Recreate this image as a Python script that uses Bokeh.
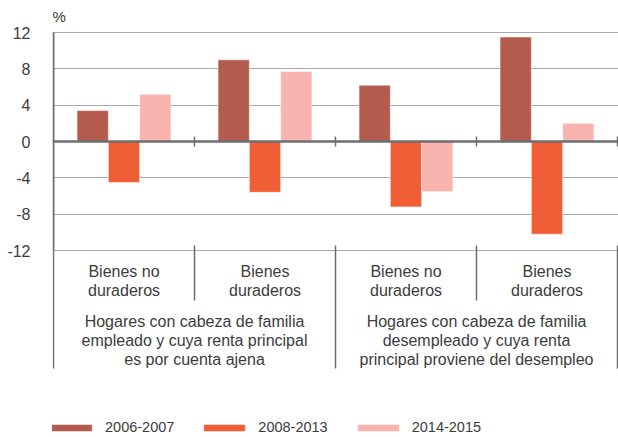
from bokeh.plotting import figure
from bokeh.models import (ColumnDataSource, FixedTicker, Span, Legend, LegendItem, Range1d)
from bokeh.core.properties import value
from bokeh.embed import file_html
from bokeh.resources import INLINE

# ---- data ----
subcategories = ["Bienes no\nduraderos", "Bienes\nduraderos", "Bienes no\nduraderos", "Bienes\nduraderos"]
groups = ["Hogares con cabeza de familia\nempleado y cuya renta principal\nes por cuenta ajena",
          "Hogares con cabeza de familia\ndesempleado y cuya renta\nprincipal proviene del desempleo"]
series_names = ["2006-2007", "2008-2013", "2014-2015"]
v_2006_2007 = [3.4, 9.0, 6.2, 11.5]
v_2008_2013 = [-4.5, -5.6, -7.2, -10.2]
v_2014_2015 = [5.2, 7.7, -5.5, 2.0]
series_values = [v_2006_2007, v_2008_2013, v_2014_2015]
y_ticks = [-12, -8, -4, 0, 4, 8, 12]
y_tick_labels = ["-12", "-8", "-4", "0", "4", "8", "12"]
unit_label = "%"

# ---- styles ----
colors = ["#b35c4d", "#f15d34", "#f9b4b0"]
FONT = "Liberation Sans"
TXT = "#3c3c3c"
AX = "#6d6e71"
GRID = "#a7a9ac"

W, H = 618, 436
left_border = 52
zero_px = 141.0             # page y of value 0
pxu = 218.0 / 24.0          # pixels per y unit
top_val = zero_px / pxu
bot_val = -(H - zero_px) / pxu
n = len(subcategories)
gpx = 141.0
x_start = -1 / gpx
x_end = n + 1 / gpx

p = figure(width=W, height=H, output_backend="svg", toolbar_location=None,
           x_range=Range1d(x_start, x_end), y_range=Range1d(bot_val, top_val),
           x_axis_location=None, min_border_left=left_border, min_border_right=0,
           min_border_top=0, min_border_bottom=0)
p.outline_line_color = None
p.xgrid.visible = False
p.background_fill_color = "white"
p.border_fill_color = "white"

# y axis
p.yaxis.ticker = FixedTicker(ticks=y_ticks)
p.yaxis.major_label_overrides = {t: l for t, l in zip(y_ticks, y_tick_labels)}
p.yaxis.axis_line_color = None
p.yaxis.major_tick_line_color = None
p.yaxis.minor_tick_line_color = None
p.yaxis.major_label_standoff = 16
p.yaxis.major_label_text_font = FONT
p.yaxis.major_label_text_font_size = "16px"
p.yaxis.major_label_text_color = TXT
p.ygrid.ticker = FixedTicker(ticks=[t for t in y_ticks if t != 0])
p.ygrid.grid_line_color = GRID
p.ygrid.grid_line_width = 1

# bars
bw = 0.222
offsets = [-bw, 0.0, bw]
renderers = []
for vals, off, col in zip(series_values, offsets, colors):
    src = ColumnDataSource(dict(x=[i + 0.5 + off for i in range(n)], top=vals))
    r = p.vbar(x="x", top="top", bottom=0, width=bw, source=src, fill_color=col,
               line_color="white", line_width=1, line_alpha=0.5)
    renderers.append(r)

# zero line
p.add_layout(Span(location=0, dimension="width", line_color=AX, line_width=2.5))

# axis / category separator lines
ymin = y_ticks[0]
sub_sep_bottom = ymin - 50 / pxu
grp_bottom = ymin - 118 / pxu
sep_top = ymin + 5 / pxu
p.segment(x0=[0], y0=[y_ticks[-1]], x1=[0], y1=[ymin], line_color=AX, line_width=2)
xs_full = [0, n / 2, n]
p.segment(x0=xs_full, y0=[ymin if x == 0 else sep_top for x in xs_full], x1=xs_full,
          y1=[grp_bottom] * 3, line_color=AX, line_width=1.5)
xs_sub = [1, 3]
p.segment(x0=xs_sub, y0=[sep_top] * 2, x1=xs_sub, y1=[sub_sep_bottom] * 2,
          line_color=AX, line_width=1.5)
tick_h = 5 / pxu
xs_ticks = list(range(1, n + 1))
p.segment(x0=xs_ticks, y0=[-tick_h] * n, x1=xs_ticks, y1=[tick_h] * n,
          line_color=AX, line_width=1.5)

# category labels
step = 19 / pxu
tx, ty, tt = [], [], []
for i, lab in enumerate(subcategories):
    for j, line in enumerate(lab.split("\n")):
        tx.append(i + 0.5); ty.append(ymin - 21 / pxu - j * step); tt.append(line)
for g, lab in enumerate(groups):
    for j, line in enumerate(lab.split("\n")):
        tx.append(g * 2 + 1); ty.append(ymin - 71 / pxu - j * step); tt.append(line)
p.text(x=tx, y=ty, text=tt, text_align="center", text_baseline="middle",
       text_font=value(FONT), text_font_size="16px", text_color=TXT)

# unit label
p.text(x=[0], y=[(zero_px - 16) / pxu], text=[unit_label], text_align="left",
       text_baseline="middle", text_font=value(FONT), text_font_size="15px",
       text_color=TXT, x_offset=-1)

# legend
legend = Legend(items=[LegendItem(label=nm, renderers=[r]) for nm, r in zip(series_names, renderers)],
                location=(-7, 1), orientation="horizontal", glyph_width=52, glyph_height=9,
                label_height=9, label_standoff=8, spacing=24, padding=0, margin=0,
                border_line_color=None, background_fill_alpha=0,
                label_text_font=FONT, label_text_font_size="14.5px", label_text_color=TXT)
p.add_layout(legend)

open("out.html", "w").write(file_html(p, INLINE))
